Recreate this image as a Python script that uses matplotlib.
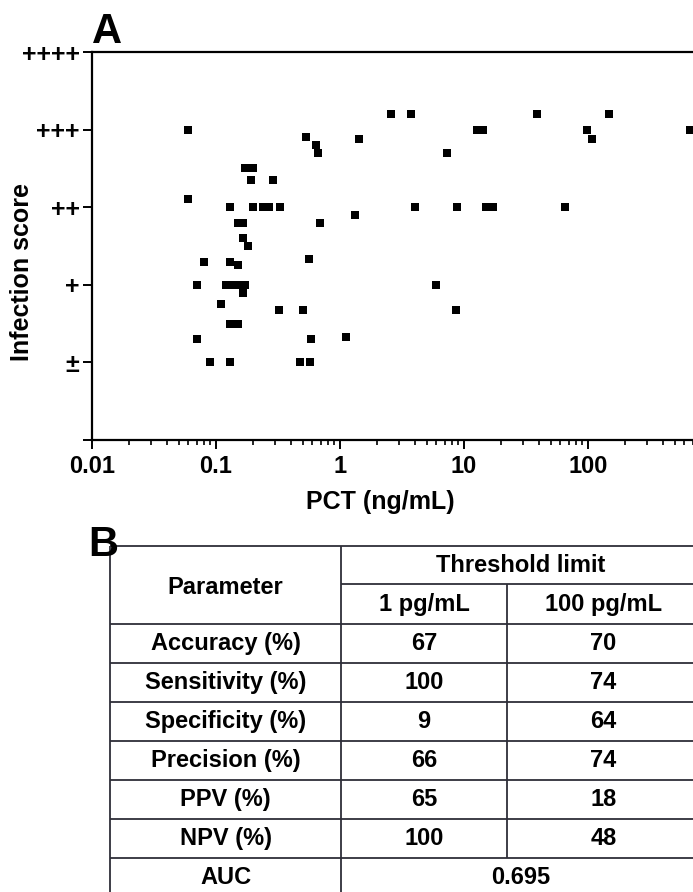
import matplotlib.pyplot as plt
import numpy as np

plt.rcParams['font.family'] = ['Liberation Sans', 'DejaVu Sans']
plt.rcParams['font.weight'] = 'bold'

# panel A data: PCT (ng/mL) vs infection score (0..5 levels)
pct = [0.06, 0.06, 0.07, 0.07, 0.08, 0.09, 0.11, 0.12, 0.13, 0.15,
       0.17, 0.13, 0.2, 0.24, 0.27, 0.33, 0.17, 0.2, 0.19, 0.29,
       0.15, 0.165, 0.165, 0.18, 0.13, 0.15, 0.165, 0.13, 0.15, 0.13,
       0.32, 0.5, 0.56, 0.58, 0.48, 0.57, 0.53, 0.645, 0.67, 0.69,
       1.12, 1.33, 1.43, 2.57, 3.75, 4.0, 5.9, 8.6, 7.3, 8.8,
       12.8, 14.3, 15.1, 17.2, 38.5, 65, 98, 107, 148, 660]
score = [4.0, 3.1, 2.0, 1.3, 2.3, 1.0, 1.75, 2.0, 2.0, 2.0,
         2.0, 3.0, 3.0, 3.0, 3.0, 3.0, 3.5, 3.5, 3.35, 3.35,
         2.8, 2.8, 2.6, 2.5, 2.3, 2.25, 1.9, 1.5, 1.5, 1.0,
         1.67, 1.67, 2.33, 1.3, 1.0, 1.0, 3.9, 3.8, 3.7, 2.8,
         1.33, 2.9, 3.88, 4.2, 4.2, 3.0, 2.0, 1.67, 3.7, 3.0,
         4.0, 4.0, 3.0, 3.0, 4.2, 3.0, 4.0, 3.88, 4.2, 4.0]
score_labels = ['', '±', '+', '++', '+++', '++++']
x_ticks = [0.01, 0.1, 1, 10, 100]
x_ticklabels = ['0.01', '0.1', '1', '10', '100']

# panel B data
params = ['Accuracy (%)', 'Sensitivity (%)', 'Specificity (%)',
          'Precision (%)', 'PPV (%)', 'NPV (%)']
thr_1 = ['67', '100', '9', '66', '65', '100']
thr_100 = ['70', '74', '64', '74', '18', '48']
auc = '0.695'

W, H = 693, 892
fig = plt.figure(figsize=(W / 100, H / 100), dpi=100)

# ---- panel A
ax = fig.add_axes([92 / W, 1 - 440 / H, 620 / W, 388 / H])
ax.plot(pct, score, 's', color='black', markersize=6, markeredgewidth=0)
ax.set_xscale('log')
ax.set_xlim(0.01, 1000)
ax.set_ylim(0, 5)
ax.set_yticks(range(6))
ax.set_yticklabels(score_labels)
ax.set_xticks(x_ticks)
ax.set_xticklabels(x_ticklabels)
for s in ax.spines.values():
    s.set_linewidth(1.6)
ax.tick_params(axis='y', which='major', length=6.5, width=1.4,
               labelsize=18, pad=2.5)
ax.tick_params(axis='x', which='major', length=6.5, width=1.4,
               labelsize=17, pad=4)
ax.tick_params(axis='x', which='minor', length=3.5, width=1.2)
ax.set_xlabel('PCT (ng/mL)', fontsize=18, fontweight='bold', va='top')
ax.xaxis.set_label_coords(0.4645, -0.129)
ax.set_ylabel('Infection score', fontsize=18, fontweight='bold',
              ha='center', va='center')
ax.yaxis.set_label_coords(-0.113, 0.433)

fig.text(92 / W, 1 - 43 / H, 'A', fontsize=30, fontweight='bold', va='baseline')
fig.text(88 / W, 1 - 556 / H, 'B', fontsize=30, fontweight='bold', va='baseline')

# ---- panel B table (drawn in pixel-like coordinates)
tx = fig.add_axes([0, 0, 1, 1])
tx.set_xlim(0, W)
tx.set_ylim(H, 0)
tx.axis('off')

c0, c1, c2, c3 = 110, 341, 507, 700
top, mid, hdr = 546, 584, 624
rh = 39
n = len(params)
rows = [hdr + i * rh for i in range(n + 2)]
lc = '#2e2e38'
lw = 1.3

tx.hlines(top, c0, c3, color=lc, lw=lw)
tx.hlines(mid, c1, c3, color=lc, lw=lw)
for y in rows:
    tx.hlines(y, c0, c3, color=lc, lw=lw)
tx.vlines(c0, top, H + 10, color=lc, lw=lw)
tx.vlines(c1, top, H + 10, color=lc, lw=lw)
tx.vlines(c2, mid, rows[n], color=lc, lw=lw)

fs = 17
tkw = dict(ha='center', va='center', fontsize=fs, fontweight='bold')
tx.text((c0 + c1) / 2, (top + hdr) / 2 + 2, 'Parameter', **tkw)
tx.text((c1 + c3) / 2, (top + mid) / 2, 'Threshold limit', **tkw)
tx.text((c1 + c2) / 2, (mid + hdr) / 2 + 1, '1 pg/mL', **tkw)
tx.text((c2 + c3) / 2, (mid + hdr) / 2 + 1, '100 pg/mL', **tkw)
for i in range(n):
    yc = rows[i] + rh / 2
    tx.text((c0 + c1) / 2, yc, params[i], **tkw)
    tx.text((c1 + c2) / 2, yc, thr_1[i], **tkw)
    tx.text((c2 + c3) / 2, yc, thr_100[i], **tkw)
yc = rows[n] + rh / 2
tx.text((c0 + c1) / 2, yc, 'AUC', **tkw)
tx.text((c1 + c3) / 2, yc, auc, **tkw)

fig.savefig('out.png', dpi=100)
